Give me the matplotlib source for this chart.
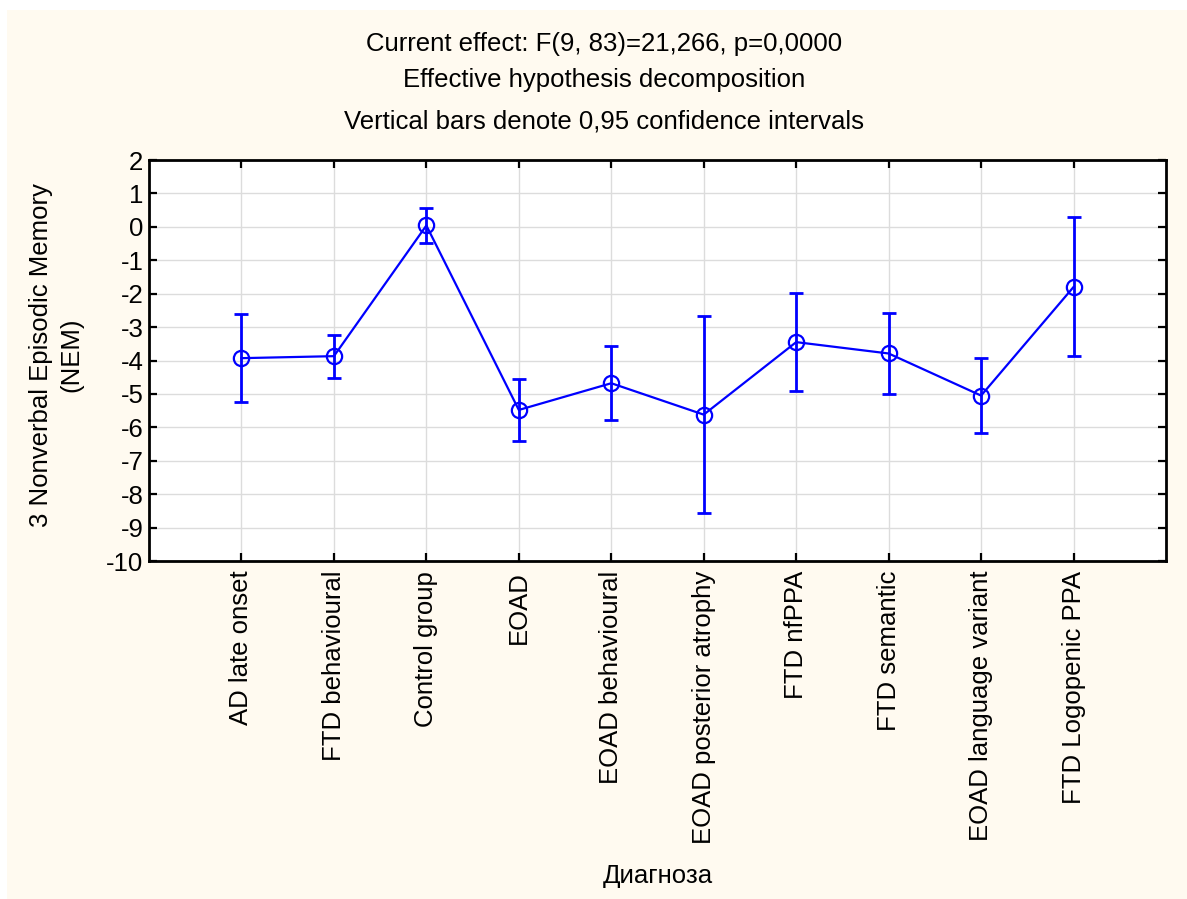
import matplotlib
matplotlib.use("Agg")
import matplotlib.pyplot as plt
from matplotlib.patches import Rectangle

plt.rcParams['font.family'] = ['Liberation Sans', 'DejaVu Sans']

# Group means of the NEM score with 95% confidence half-widths
groups = [
    "AD late onset",
    "FTD behavioural",
    "Control group",
    "EOAD",
    "EOAD behavioural",
    "EOAD posterior atrophy",
    "FTD nfPPA",
    "FTD semantic",
    "EOAD language variant",
    "FTD Logopenic PPA",
]
means = [-3.93, -3.87, 0.04, -5.48, -4.68, -5.62, -3.45, -3.79, -5.05, -1.80]
ci_half = [1.32, 0.64, 0.53, 0.93, 1.11, 2.95, 1.47, 1.20, 1.12, 2.08]

y_ticks = list(range(-10, 3))

title_lines = [
    "Current effect: F(9, 83)=21,266, p=0,0000",
    "Effective hypothesis decomposition",
    "Vertical bars denote 0,95 confidence intervals",
]

FS = 18.5
W, H = 1187, 899
fig = plt.figure(figsize=(W / 100, H / 100), dpi=100, facecolor="white")

# cream panel behind the chart
fig.patches.append(Rectangle((7 / W, -0.01), 1.02 - 7 / W, 1.01 - 10 / H,
                             transform=fig.transFigure, facecolor="#fffaf0",
                             edgecolor="none", zorder=-10))

ax = fig.add_axes([149 / W, 1 - 561 / H, (1166 - 149) / W, (561 - 160) / H])
ax.set_facecolor("white")

x = list(range(len(groups)))
ax.errorbar(x, means, yerr=ci_half, fmt="none", ecolor="#0000ff",
            elinewidth=2, capsize=5, capthick=2, zorder=3)
ax.plot(x, means, color="#0000ff", linewidth=1.6, marker="o",
        markersize=11, markerfacecolor="none", markeredgecolor="#0000ff",
        markeredgewidth=1.6, zorder=4)

ax.set_xlim(-1, 10)
ax.set_ylim(-10, 2)
ax.set_yticks(y_ticks)
ax.set_yticklabels([str(v) for v in y_ticks])
ax.set_xticks(x)
ax.set_xticklabels(groups, rotation=90, va="top", ha="center")

ax.grid(True, color="#dcdcdc", linewidth=1.0, zorder=0)
ax.set_axisbelow(True)

for s in ax.spines.values():
    s.set_linewidth(2)
    s.set_color("black")

ax.tick_params(axis="both", direction="in", length=6, width=1.6,
               top=True, right=True, labelsize=FS, colors="black")
ax.tick_params(axis="x", pad=7)
ax.tick_params(axis="y", pad=4)

ax.set_xlabel("Диагноза", fontsize=FS)
ax.set_ylabel("3 Nonverbal Episodic Memory\n(NEM)", fontsize=FS,
              linespacing=1.35)
ax.xaxis.set_label_coords(0.5, (561 - 876) / (561 - 160), transform=ax.transAxes)
ax.xaxis.label.set_va("center")
ax.yaxis.set_label_coords((56 - 149) / (1166 - 149), 0.514, transform=ax.transAxes)
ax.yaxis.label.set_va("center")

for text, ypx in zip(title_lines, [44, 80, 121]):
    fig.text(604 / W, 1 - ypx / H, text, ha="center", va="center",
             fontsize=FS)

fig.savefig("out.png", dpi=100, facecolor=fig.get_facecolor())
